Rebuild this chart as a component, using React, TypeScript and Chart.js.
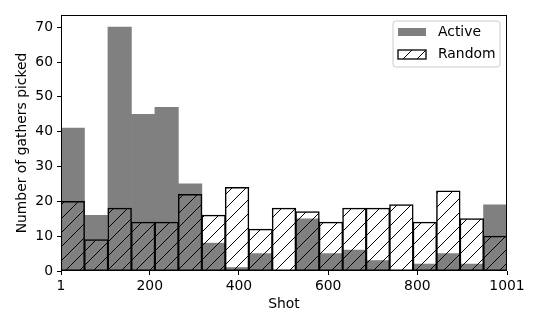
import React, { useEffect, useRef } from "react";
import { Chart, registerables } from "chart.js";

Chart.register(...registerables);

// ---- data ----
const shotRangeStart = 1;
const shotRangeEnd = 1001;
const binCount = 19;
const seriesLabels = ["Active", "Random"];
const activeCounts = [41, 16, 70, 45, 47, 25, 8, 1, 5, 0, 15, 5, 6, 3, 0, 2, 5, 2, 19];
const randomCounts = [20, 9, 18, 14, 14, 22, 16, 24, 12, 18, 17, 14, 18, 18, 19, 14, 23, 15, 10];
const xTickValues = [1, 200, 400, 600, 800, 1001];
const yTickValues = [0, 10, 20, 30, 40, 50, 60, 70];
const xTitle = "Shot";
const yTitle = "Number of gathers picked";

const FONT = "'DejaVu Sans', 'Liberation Sans', sans-serif";
const FS = 13.9;
const activeColor = "#808080";

function binCenter(i: number) {
  const w = (shotRangeEnd - shotRangeStart) / binCount;
  return shotRangeStart + (i + 0.5) * w;
}

function makeHatch(): CanvasPattern | string {
  const s = 14;
  const pc = document.createElement("canvas");
  pc.width = s;
  pc.height = s;
  const g = pc.getContext("2d");
  if (!g) return "rgba(0,0,0,0)";
  g.strokeStyle = "#000";
  g.lineWidth = 1;
  g.beginPath();
  g.moveTo(0, s);
  g.lineTo(s, 0);
  g.moveTo(-s / 2, s / 2);
  g.lineTo(s / 2, -s / 2);
  g.moveTo(s / 2, s * 1.5);
  g.lineTo(s * 1.5, s / 2);
  g.stroke();
  const pat = g.createPattern(pc, "repeat");
  return pat || "rgba(0,0,0,0)";
}

export default function App() {
  const ref = useRef<HTMLCanvasElement | null>(null);

  useEffect(() => {
    document.body.style.margin = "0";
    const canvas = ref.current;
    if (!canvas) return;
    const hatch = makeHatch();

    const framePlugin = {
      id: "frameAndLegend",
      afterDatasetsDraw(chart: any) {
        const { ctx, chartArea } = chart;
        const { left, right, top, bottom } = chartArea;
        ctx.save();
        ctx.strokeStyle = "#000";
        ctx.lineWidth = 1;
        ctx.strokeRect(left + 0.5, top + 0.5, right - left - 1, bottom - top - 1);

        // legend box (upper right, inside axes)
        const bx = right - 114, by = top + 6, bw = 107, bh = 46, r = 3;
        ctx.beginPath();
        ctx.moveTo(bx + r, by);
        ctx.lineTo(bx + bw - r, by);
        ctx.arcTo(bx + bw, by, bx + bw, by + r, r);
        ctx.lineTo(bx + bw, by + bh - r);
        ctx.arcTo(bx + bw, by + bh, bx + bw - r, by + bh, r);
        ctx.lineTo(bx + r, by + bh);
        ctx.arcTo(bx, by + bh, bx, by + bh - r, r);
        ctx.lineTo(bx, by + r);
        ctx.arcTo(bx, by, bx + r, by, r);
        ctx.closePath();
        ctx.fillStyle = "rgba(255,255,255,0.8)";
        ctx.fill();
        ctx.strokeStyle = "#cccccc";
        ctx.lineWidth = 1;
        ctx.stroke();

        const sx = bx + 5;
        const sw = 28;
        // Active swatch
        ctx.fillStyle = activeColor;
        ctx.fillRect(sx, by + 7, sw, 8);
        // Random swatch
        ctx.fillStyle = hatch as any;
        ctx.fillRect(sx, by + 29, sw, 9);
        ctx.strokeStyle = "#000";
        ctx.lineWidth = 1.3;
        ctx.strokeRect(sx, by + 29, sw, 9);

        ctx.fillStyle = "#000";
        ctx.font = `${FS}px ${FONT}`;
        ctx.textBaseline = "middle";
        ctx.textAlign = "left";
        ctx.fillText(seriesLabels[0], sx + 40, by + 11);
        ctx.fillText(seriesLabels[1], sx + 40, by + 33.5);
        ctx.restore();
      },
    };

    const chart = new Chart(canvas, {
      type: "bar",
      data: {
        datasets: [
          {
            label: seriesLabels[0],
            data: activeCounts.map((v, i) => ({ x: binCenter(i), y: v })),
            backgroundColor: activeColor,
            borderWidth: 0,
            grouped: false,
            barPercentage: 1,
            categoryPercentage: 1,
            order: 1,
          } as any,
          {
            label: seriesLabels[1],
            data: randomCounts.map((v, i) => ({ x: binCenter(i), y: v })),
            backgroundColor: hatch as any,
            borderColor: "#000",
            borderWidth: 0.6,
            borderSkipped: false,
            inflateAmount: 0.45,
            grouped: false,
            barPercentage: 1,
            categoryPercentage: 1,
            order: 0,
          } as any,
        ],
      },
      options: {
        responsive: false,
        animation: false,
        devicePixelRatio: 1,
        layout: { padding: { top: 15, right: 33, left: 0, bottom: 0 } },
        plugins: {
          legend: { display: false },
          tooltip: { enabled: false },
        },
        scales: {
          x: {
            type: "linear",
            min: shotRangeStart,
            max: shotRangeEnd,
            offset: false,
            afterBuildTicks: (scale: any) => {
              scale.ticks = xTickValues.map((v) => ({ value: v }));
            },
            afterFit: (scale: any) => {
              scale.height = 59;
            },
            ticks: {
              autoSkip: false,
              maxRotation: 0,
              padding: 3.5,
              color: "#000",
              font: { family: FONT, size: FS },
              callback: (v: any) => String(v),
            },
            grid: {
              display: true,
              drawOnChartArea: false,
              drawTicks: true,
              tickLength: 4,
              color: "#000",
              lineWidth: 1,
              offset: false,
            },
            border: { display: false },
            title: {
              display: true,
              text: xTitle,
              color: "#000",
              font: { family: FONT, size: FS },
              padding: { top: 0, bottom: 17 },
            },
          },
          y: {
            type: "linear",
            min: 0,
            max: 73.5,
            afterBuildTicks: (scale: any) => {
              scale.ticks = yTickValues.map((v) => ({ value: v }));
            },
            afterFit: (scale: any) => {
              scale.width = 61;
            },
            ticks: {
              padding: 4,
              color: "#000",
              font: { family: FONT, size: FS },
              callback: (v: any) => String(v),
            },
            grid: {
              display: true,
              drawOnChartArea: false,
              drawTicks: true,
              tickLength: 4,
              color: "#000",
              lineWidth: 1,
            },
            border: { display: false },
            title: {
              display: true,
              text: yTitle,
              color: "#000",
              font: { family: FONT, size: FS },
              padding: { top: 14, bottom: 0 },
            },
          },
        },
      },
      plugins: [framePlugin],
    });

    return () => {
      chart.destroy();
    };
  }, []);

  return (
    <div style={{ position: "fixed", left: 0, top: 0, width: 540, height: 330, background: "#fff" }}>
      <canvas ref={ref} width={540} height={330} style={{ display: "block" }} />
    </div>
  );
}
